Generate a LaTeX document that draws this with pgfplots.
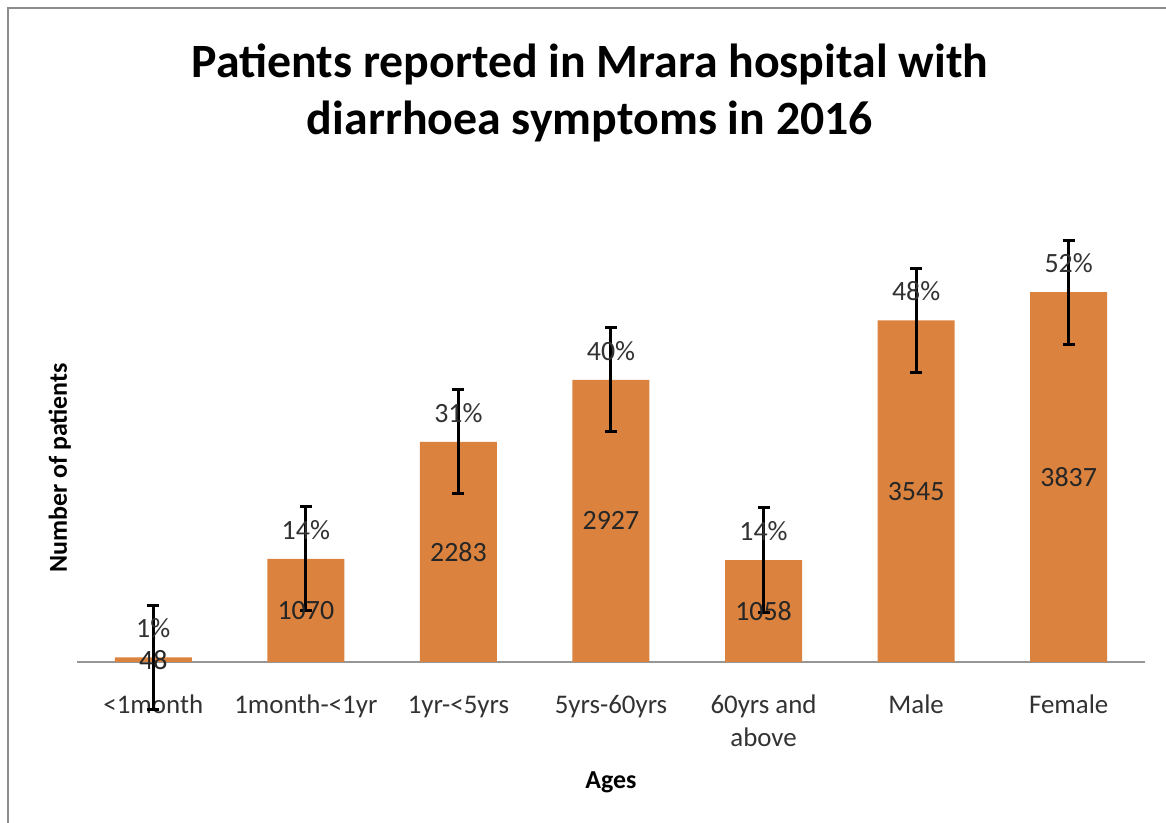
\documentclass[border=0pt]{standalone}
\usepackage{pgfplots}
\pgfplotsset{compat=1.18}
\usepackage{fontspec}
\setmainfont{Carlito}
\definecolor{barorange}{RGB}{219,131,62}
\definecolor{framegray}{RGB}{140,140,140}
\definecolor{axisgray}{RGB}{150,150,150}
\definecolor{ticktext}{RGB}{50,50,50}
\begin{document}
\begin{tikzpicture}[x=1bp,y=1bp]
\path[use as bounding box] (0,0) rectangle (1166,823);
\draw[framegray, line width=2.5bp] (8,0) -- (8,815) -- (1166,815);
\node[font=\fontsize{48}{58}\selectfont\bfseries, align=center, anchor=center] at (590,730)
  {Patients reported in Mrara hospital with\\diarrhoea symptoms in 2016};
\begin{axis}[
  at={(77bp,161bp)}, anchor=south west,
  scale only axis,
  width=1068bp, height=433.8bp,
  xmin=-0.5, xmax=6.5, ymin=0, ymax=4500,
  axis x line*=bottom,
  axis y line*=left,
  y axis line style={draw=none},
  x axis line style={axisgray, line width=1.2bp, -},
  xtick={0,1,2,3,4,5,6},
  xticklabels={{<1month},{1month-<1yr},{1yr-<5yrs},{5yrs-60yrs},{{\setlength{\tabcolsep}{0pt}\begin{tabular}[t]{c}60yrs and\\above\end{tabular}}},{Male},{Female}},
  xticklabel style={font=\fontsize{27}{33}\selectfont, text=ticktext, anchor=base, yshift=-52bp},
  major tick length=0pt,
  ytick=\empty,
  clip=false,
  xlabel={\textbf{Ages}},
  xlabel style={font=\fontsize{26}{31}\selectfont, at={(axis description cs:0.5,0)}, anchor=center, yshift=-120bp},
  ylabel={\textbf{Number of patients}},
  ylabel style={font=\fontsize{26}{31}\selectfont, at={(axis description cs:-0.016,0.447)}, anchor=center},
]
% bars with value labels in middle
\addplot[ybar, bar width=77bp, bar shift=0pt, fill=barorange, draw=none,
  nodes near coords,
  point meta=explicit symbolic,
  visualization depends on={rawy \as \rawy},
  every node near coord/.append style={font=\fontsize{28}{33}\selectfont, text=black!85, anchor=center,
     shift={(axis direction cs:0,-\rawy/2)}},
] table[meta=lab] {
x y lab
0 48 48
1 1070 1070
2 2283 2283
3 2927 2927
4 1058 1058
5 3545 3545
6 3837 3837
};
% percentages and error bars
\addplot[only marks, mark=none, draw=none,
  nodes near coords,
  point meta=explicit symbolic,
  every node near coord/.append style={font=\fontsize{28}{33}\selectfont, text=ticktext, anchor=center, yshift=29bp},
  error bars/.cd, y dir=both, y explicit,
  error bar style={black, line width=3bp},
  error mark options={black, line width=3bp, mark size=6bp, rotate=90},
] table[meta=pct, y error=e] {
x y e pct
0 48 540 1\%
1 1070 540 14\%
2 2283 540 31\%
3 2927 540 40\%
4 1058 540 14\%
5 3545 540 48\%
6 3837 540 52\%
};
\end{axis}
\end{tikzpicture}
\end{document}
